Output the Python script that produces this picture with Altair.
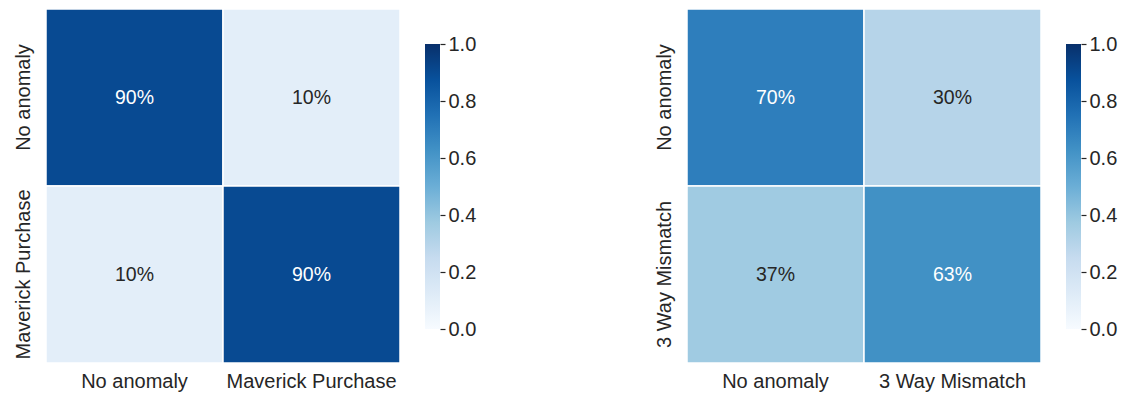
import altair as alt
import pandas as pd

labels_a = ["No anomaly", "Maverick Purchase"]
values_a = [[0.90, 0.10], [0.10, 0.90]]
labels_b = ["No anomaly", "3 Way Mismatch"]
values_b = [[0.70, 0.30], [0.37, 0.63]]

blues = ["#f7fbff", "#deebf7", "#c6dbef", "#9ecae1", "#6baed6",
         "#4292c6", "#2171b5", "#08519c", "#08306b"]
stops = [i / 8 for i in range(9)]
cbar_ticks = [0.0, 0.2, 0.4, 0.6, 0.8, 1.0]

FONT = "Liberation Sans"
DARK = "#262626"
SIZE = 354


def heatmap(labels, values):
    rows = []
    for i, r in enumerate(labels):
        for j, c in enumerate(labels):
            rows.append({"row": r, "col": c, "v": values[i][j]})
    df = pd.DataFrame(rows)
    base = alt.Chart(df).encode(
        x=alt.X("col:N", sort=labels, title=None,
                scale=alt.Scale(paddingInner=0, paddingOuter=0),
                axis=alt.Axis(orient="bottom", labelAngle=0, ticks=False, domain=False,
                              labelPadding=8, labelFontSize=20, labelFont=FONT,
                              labelColor=DARK, labelLimit=400)),
        y=alt.Y("row:N", sort=labels, title=None,
                scale=alt.Scale(paddingInner=0, paddingOuter=0),
                axis=alt.Axis(labelAngle=270, labelAlign="center", labelBaseline="bottom",
                              ticks=False, domain=False, labelPadding=13,
                              labelFontSize=20, labelFont=FONT, labelColor=DARK,
                              labelLimit=400)),
    )
    rect = base.mark_rect(stroke="white", strokeWidth=1.5).encode(
        color=alt.Color("v:Q", legend=None,
                        scale=alt.Scale(domain=stops, range=blues, interpolate="rgb"))
    )
    text = base.mark_text(font=FONT, fontSize=19.5).encode(
        text=alt.Text("v:Q", format=".0%"),
        color=alt.condition(alt.datum.v > 0.5, alt.value("white"), alt.value(DARK)),
    )
    return alt.layer(rect, text).properties(width=SIZE, height=SIZE)


def colorbar():
    df = pd.DataFrame({"lo": [0.0], "hi": [1.0]})
    grad = alt.LinearGradient(
        gradient="linear",
        stops=[alt.GradientStop(color=c, offset=o) for c, o in zip(blues, stops)],
        x1=0, x2=0, y1=1, y2=0,
    )
    return alt.Chart(df).mark_rect(fill=grad, strokeWidth=0).encode(
        x=alt.value(0), x2=alt.value(15),
        y=alt.Y("lo:Q", title=None,
                scale=alt.Scale(domain=[-34 / 285, 1 + 35 / 285], nice=False, zero=False),
                axis=alt.Axis(orient="right", values=cbar_ticks, format=".1f",
                              domain=False, grid=False, tickSize=5, tickWidth=1.2,
                              tickColor=DARK, labelPadding=3, labelFontSize=20,
                              labelFont=FONT, labelColor=DARK, labelBaseline="middle")),
        y2="hi:Q",
    ).properties(width=15, height=SIZE)


left = alt.hconcat(heatmap(labels_a, values_a), colorbar(), spacing=24).resolve_scale(
    x="independent", y="independent", color="independent")
right = alt.hconcat(heatmap(labels_b, values_b), colorbar(), spacing=24).resolve_scale(
    x="independent", y="independent", color="independent")

chart = alt.hconcat(left, right, spacing=177).resolve_scale(
    x="independent", y="independent", color="independent"
).properties(
    background="white",
    padding={"left": 12, "top": 8, "right": 5, "bottom": 5}
).configure_view(stroke=None, strokeWidth=0)

chart.save("out.html", embed_options={"renderer": "svg", "actions": False})
